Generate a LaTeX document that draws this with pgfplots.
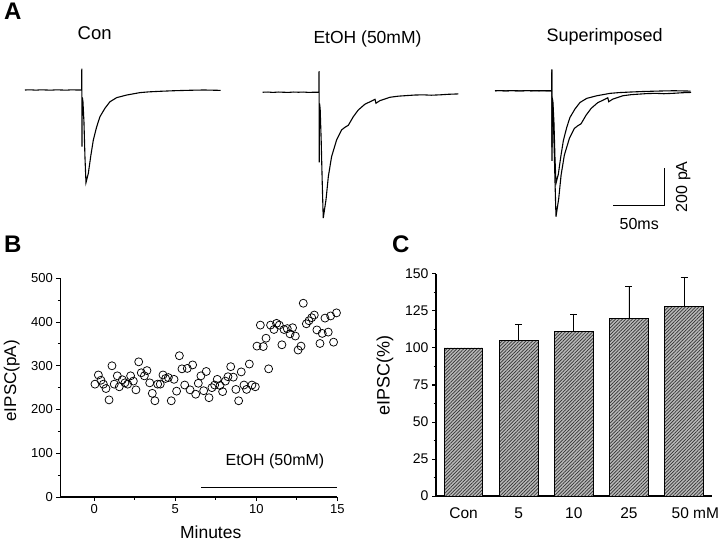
\documentclass[border=0pt]{standalone}
\usepackage{fontspec}
\setmainfont{Liberation Sans}
\usepackage{pgfplots}
\pgfplotsset{compat=1.18}
\usepackage{pgfplotstable}
\usetikzlibrary{patterns.meta}

% Panel A traces: t (ms from stimulus), I (pA from baseline)
\pgfplotstableread{
t I
-55.6 0
-50 1
-45 -1
-40 1
-35 0
-30 -1
-25 1
-20 0
-15 -1
-10 1
-5 0
0 0
0.1 111
0.2 111
0.3 -304
0.6 -40
1.2 -60
2.2 -170
3.2 -360
4.2 -497
6.5 -447
8.8 -357
11.4 -268
14.7 -197
17.9 -143
22.8 -98
27.7 -63
34.3 -41
44.1 -27
57.2 -14
66 -10
76.8 -7
90 -4
102.9 -2
110 -1
120 0
128 -1
136.3 -2
}\conTrace

\pgfplotstableread{
t I
-55.2 0
-50 1
-45 -1
-40 1
-35 0
-30 -1
-25 1
-20 0
-15 1
-10 -1
-5 0
0 0
0.1 110
0.2 110
0.3 -376
0.6 -60
1.2 -90
2.2 -260
3.2 -480
4.2 -675
6.9 -577
9.2 -452
12.4 -345
17.3 -256
22.2 -202
25.5 -188
28.8 -177
33.7 -131
38.6 -95
45.1 -64
51.7 -47
55.0 -38
55.9 -59
59.8 -45
69.6 -27
78 -21
86.0 -18
94 -15
102.3 -14
110 -16
118.6 -14
127 -11
136.6 -9
}\etohTrace

% Panel B: time course
\pgfplotstableread{
m I
0.04 258
0.25 279
0.41 267
0.56 258
0.72 248
0.91 222
1.09 300
1.23 258
1.42 277
1.54 252
1.73 268
1.89 261
2.06 258
2.24 277
2.41 265
2.57 245
2.74 309
2.90 284
3.09 277
3.25 289
3.42 261
3.58 237
3.74 220
3.91 258
4.07 258
4.24 279
4.40 271
4.57 273
4.75 220
4.92 269
5.08 242
5.25 323
5.41 293
5.58 256
5.74 294
5.91 245
6.07 302
6.26 235
6.42 260
6.58 277
6.75 243
6.91 287
7.08 227
7.26 250
7.43 256
7.59 269
7.76 255
7.92 241
8.09 265
8.25 275
8.42 298
8.58 274
8.74 246
8.91 220
9.07 286
9.24 256
9.40 246
9.57 304
9.73 256
9.94 252
10.04 345
10.25 393
10.43 344
10.60 363
10.76 293
10.88 393
11.09 383
11.25 397
11.42 393
11.58 348
11.71 383
11.91 385
12.08 373
12.24 387
12.41 368
12.58 336
12.76 345
12.90 443
13.09 396
13.25 403
13.42 410
13.58 416
13.74 382
13.93 351
14.07 374
14.24 409
14.44 377
14.59 414
14.77 354
14.95 421
}\timeCourse

% Panel C: bars
\pgfplotstableread{
x y e
0 100 0
1 105 11
2 111 12
3 120 21.5
4 128 20
}\barData

\begin{document}
\begin{tikzpicture}
\useasboundingbox (0,0) rectangle (720pt,541pt);

% ---------------- Panel A ----------------
\begin{axis}[
  at={(0pt,301pt)}, anchor=south west, scale only axis,
  width=720pt, height=240pt,
  xmin=0, xmax=705.9, ymin=-804, ymax=482.4,
  hide axis, clip=false]
\addplot[black, line width=1.1pt] table[x expr=\thisrow{t}+80.1, y=I] \conTrace;
\addplot[black, line width=1.1pt] table[x expr=\thisrow{t}+312.7, y expr=\thisrow{I}-12] \etohTrace;
\addplot[black, line width=1.1pt] table[x expr=\thisrow{t}+540.9, y expr=\thisrow{I}-4] \conTrace;
\addplot[black, line width=1.1pt] table[x expr=\thisrow{t}+540.9, y expr=\thisrow{I}-4] \etohTrace;
% scale bar
\addplot[black, line width=1.1pt] coordinates {(601.3,-620.2) (651.3,-620.2) (651.3,-419.7)};
\node[anchor=base, font=\fontsize{16}{16}\selectfont] at (axis cs:626.7,-746.7) {50ms};
\node[rotate=90, font=\fontsize{16}{16}\selectfont] at (axis cs:669.9,-518.3) {200 pA};
% titles
\node[anchor=base, font=\fontsize{18.5}{18.5}\selectfont] at (axis cs:92.8,268) {Con};
\node[anchor=base, font=\fontsize{17.5}{17.5}\selectfont] at (axis cs:360.3,246.6) {EtOH (50mM)};
\node[anchor=base, font=\fontsize{18}{18}\selectfont] at (axis cs:592.8,258.9) {Superimposed};
\end{axis}

% panel letters
\node[anchor=base west, inner sep=0pt, font=\fontsize{24}{24}\selectfont\bfseries] at (4pt,521pt) {A};
\node[anchor=base west, inner sep=0pt, font=\fontsize{24}{24}\selectfont\bfseries] at (4pt,288pt) {B};
\node[anchor=base west, inner sep=0pt, font=\fontsize{24}{24}\selectfont\bfseries] at (392pt,288pt) {C};

% ---------------- Panel B ----------------
\begin{axis}[
  at={(60.3pt,44pt)}, anchor=south west, scale only axis,
  width=277pt, height=218.7pt,
  xmin=-2.1, xmax=15, ymin=0, ymax=500,
  axis lines=left, axis line style={-, line width=1.1pt},
  tick align=outside,
  xtick={0,5,10,15}, ytick={0,100,...,500},
  minor x tick num=1, minor y tick num=1,
  major tick length=4pt, minor tick length=2.5pt,
  tick style={black, line width=1pt},
  tick label style={font=\fontsize{13}{13}\selectfont},
  /pgf/number format/assume math mode=true,
  xlabel={Minutes}, ylabel={eIPSC(pA)},
  xlabel style={at={(axis description cs:0.543,-0.191)}, anchor=base, font=\fontsize{17.5}{17.5}\selectfont},
  ylabel style={at={(axis description cs:-0.175,0.531)}, anchor=center, font=\fontsize{17}{17}\selectfont},
  clip=false]
\addplot[only marks, mark=o, mark size=4pt, mark options={line width=0.75pt, black}] table[x=m, y=I] \timeCourse;
\addplot[black, line width=1.1pt] coordinates {(6.6,22) (15,22)};
\node[anchor=base, font=\fontsize{16}{16}\selectfont] at (axis cs:11.15,70.9) {EtOH (50mM)};
\end{axis}

% ---------------- Panel C ----------------
\begin{axis}[
  at={(436pt,45pt)}, anchor=south west, scale only axis,
  width=275.7pt, height=222pt,
  xmin=-0.5, xmax=4.5, ymin=0, ymax=150,
  axis lines=left, axis line style={-, line width=1.1pt},
  tick align=outside,
  ybar, bar width=0.7,
  xtick={0,1,2,3,4},
  xticklabels={Con,5,10,25,\makebox[0pt][l]{\hspace{-12.5pt}50 mM}},
  x tick style={draw=none},
  xticklabel style={font=\fontsize{15.5}{15.5}\selectfont, yshift=-4pt},
  ytick={0,25,...,150}, minor y tick num=1,
  major tick length=4pt, minor tick length=2.5pt,
  y tick style={black, line width=1pt},
  yticklabel style={font=\fontsize{14}{14}\selectfont},
  /pgf/number format/assume math mode=true,
  ylabel={eIPSC(\%)},
  ylabel style={at={(axis description cs:-0.185,0.541)}, anchor=center, font=\fontsize{18}{18}\selectfont},
  clip=false]
\addplot[fill=gray!55, draw=black, line width=0.9pt,
  postaction={pattern={Lines[angle=45, distance=2.4pt, line width=0.7pt]}, pattern color=black!80},
  error bars/.cd, y dir=plus, y explicit,
  error bar style={line width=0.9pt, black},
  error mark options={rotate=90, mark size=3.5pt, line width=0.9pt, black}]
  table[x=x, y=y, y error=e] \barData;
\end{axis}
\end{tikzpicture}
\end{document}
